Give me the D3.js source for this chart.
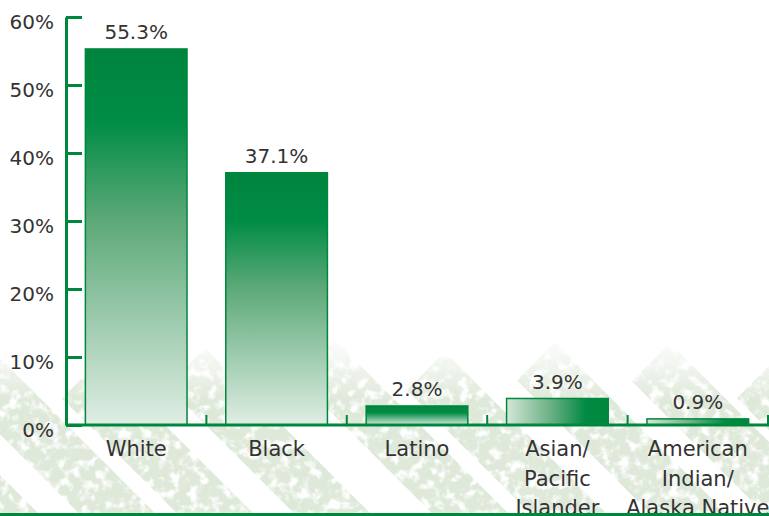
<!DOCTYPE html>
<html>
<head>
<meta charset="utf-8">
<script src="https://cdn.jsdelivr.net/npm/d3@7"></script>
<style>
  html, body { margin: 0; padding: 0; background: #ffffff; }
  svg { display: block; }
  text { font-family: "DejaVu Sans", "Liberation Sans", sans-serif; fill: #333333; }
</style>
</head>
<body>
<svg id="chart" width="769" height="516"></svg>
<script>
// ---- data ----
const categories = ["White", "Black", "Latino", "Asian/\nPacific\nIslander", "American\nIndian/\nAlaska Native"];
const values = [55.3, 37.1, 2.8, 3.9, 0.9];
const valueLabels = ["55.3%", "37.1%", "2.8%", "3.9%", "0.9%"];
const yTicks = [0, 10, 20, 30, 40, 50, 60];
const yTickLabels = ["0%", "10%", "20%", "30%", "40%", "50%", "60%"];
const gradientDirection = ["v", "v", "v", "h", "h"];

// ---- setup ----
const W = 769, H = 516;
const svg = d3.select("#chart");
const green = "#00873e";
const defs = svg.append("defs");

// vertical gradient: dark top -> light bottom
const gv = defs.append("linearGradient").attr("id", "gv")
  .attr("x1", 0).attr("y1", 0).attr("x2", 0).attr("y2", 1);
gv.append("stop").attr("offset", "0%").attr("stop-color", "#00843d");
gv.append("stop").attr("offset", "19%").attr("stop-color", "#008c45");
gv.append("stop").attr("offset", "45%").attr("stop-color", "#5ba877");
gv.append("stop").attr("offset", "100%").attr("stop-color", "#e0eee4");

// short vertical gradient for small bar
const gvs = defs.append("linearGradient").attr("id", "gvs")
  .attr("x1", 0).attr("y1", 0).attr("x2", 0).attr("y2", 1);
gvs.append("stop").attr("offset", "0%").attr("stop-color", "#00873e");
gvs.append("stop").attr("offset", "35%").attr("stop-color", "#008a43");
gvs.append("stop").attr("offset", "100%").attr("stop-color", "#d8eadd");

// horizontal gradient: light left -> dark right
const gh = defs.append("linearGradient").attr("id", "gh")
  .attr("x1", 0).attr("y1", 0).attr("x2", 1).attr("y2", 0);
gh.append("stop").attr("offset", "0%").attr("stop-color", "#d3e7d8");
gh.append("stop").attr("offset", "45%").attr("stop-color", "#67ae81");
gh.append("stop").attr("offset", "78%").attr("stop-color", "#008a43");
gh.append("stop").attr("offset", "100%").attr("stop-color", "#00873e");

// grain filter for background stripes
const f = defs.append("filter").attr("id", "grain")
  .attr("filterUnits", "userSpaceOnUse")
  .attr("x", 0).attr("y", 0).attr("width", W).attr("height", H);
f.append("feTurbulence").attr("type", "fractalNoise").attr("baseFrequency", 0.1)
  .attr("numOctaves", 3).attr("seed", 11).attr("result", "noise");
f.append("feColorMatrix").attr("in", "noise").attr("type", "matrix")
  .attr("values", "0 0 0 0 0  0 0 0 0 0  0 0 0 0 0  0 0 0 -4 2.9").attr("result", "mask");
f.append("feComposite").attr("in", "SourceGraphic").attr("in2", "mask").attr("operator", "in");

// vertical fade for stripe tops
const fade = defs.append("linearGradient").attr("id", "fade")
  .attr("gradientUnits", "userSpaceOnUse")
  .attr("x1", 0).attr("y1", 335).attr("x2", 0).attr("y2", 400);
fade.append("stop").attr("offset", "0%").attr("stop-color", "#fff").attr("stop-opacity", 0);
fade.append("stop").attr("offset", "100%").attr("stop-color", "#fff").attr("stop-opacity", 1);
defs.append("mask").attr("id", "fadeMask")
  .attr("maskUnits", "userSpaceOnUse").attr("x", 0).attr("y", 0).attr("width", W).attr("height", H)
  .append("rect").attr("x", 0).attr("y", 0).attr("width", W).attr("height", H).attr("fill", "url(#fade)");

// ---- background diagonal stripes (decoration) ----
const peaks = [
  [-340, 352], [-230, 350], [-120, 355], [-10, 348], [100, 360], [205, 348],
  [335, 340], [445, 352], [555, 342], [670, 343], [775, 360]
];
const stripeW = 54, stripeL = 700, r2 = Math.SQRT2;
const bg = svg.append("g").attr("mask", "url(#fadeMask)").append("g").attr("filter", "url(#grain)");
bg.append("g").attr("transform", "rotate(45)")
  .selectAll("rect").data(peaks).join("rect")
  .attr("x", d => (d[0] + d[1]) / r2)
  .attr("y", d => (d[1] - d[0]) / r2)
  .attr("width", stripeL)
  .attr("height", stripeW)
  .attr("fill", "#dfe9da");

// ---- scales ----
const pad = 0.276;
const x = d3.scaleBand().domain(categories).range([66, 768])
  .paddingInner(pad).paddingOuter(pad / 2);
const y = d3.scaleLinear().domain([0, 60]).range([425, 17]);

// ---- y axis ----
const yAxis = d3.axisLeft(y).tickValues(yTicks)
  .tickFormat((d, i) => yTickLabels[i])
  .tickSizeInner(-16).tickSizeOuter(0).tickPadding(12);
const gy = svg.append("g").attr("transform", "translate(66,0)").call(yAxis);
gy.select(".domain").attr("stroke", green).attr("stroke-width", 3);
gy.selectAll(".tick line").attr("stroke", green).attr("stroke-width", 3);
gy.selectAll(".tick text").attr("font-size", 20).attr("fill", "#333")
  .attr("font-family", "DejaVu Sans").attr("dy", "0.62em").attr("y", -1);

// ---- bars ----
const fillFor = (i) => gradientDirection[i] === "h" ? "url(#gh)" : (values[i] < 10 ? "url(#gvs)" : "url(#gv)");
svg.append("g").selectAll("rect").data(categories).join("rect")
  .attr("x", d => x(d))
  .attr("y", (d, i) => y(values[i]))
  .attr("width", x.bandwidth())
  .attr("height", (d, i) => y(0) - y(values[i]))
  .attr("fill", (d, i) => fillFor(i))
  .attr("stroke", green).attr("stroke-width", 1.5);

// ---- x axis ----
const gx = svg.append("g");
gx.append("line").attr("x1", 66).attr("x2", W).attr("y1", y(0)).attr("y2", y(0))
  .attr("stroke", green).attr("stroke-width", 3);
const boundaries = categories.map(c => x(c) + x.bandwidth() + x.step() * pad / 2);
gx.selectAll("line.tk").data(boundaries).join("line").attr("class", "tk")
  .attr("x1", d => d).attr("x2", d => d)
  .attr("y1", y(0) - 10).attr("y2", y(0))
  .attr("stroke", green).attr("stroke-width", 2);

// ---- value labels ----
svg.append("g").selectAll("text").data(categories).join("text")
  .attr("x", d => x(d) + x.bandwidth() / 2)
  .attr("y", (d, i) => y(values[i]) - 9.5)
  .attr("text-anchor", "middle")
  .attr("font-size", 20)
  .text((d, i) => valueLabels[i]);

// ---- category labels ----
const cl = svg.append("g").selectAll("text").data(categories).join("text")
  .attr("x", d => x(d) + x.bandwidth() / 2)
  .attr("y", 456)
  .attr("text-anchor", "middle")
  .attr("font-size", 21);
cl.each(function (d) {
  const t = d3.select(this);
  d.split("\n").forEach((line, j) => {
    t.append("tspan").attr("x", x(d) + x.bandwidth() / 2).attr("dy", j === 0 ? 0 : 29.5).text(line);
  });
});

// ---- bottom rule ----
svg.append("rect").attr("x", 0).attr("y", 513).attr("width", W).attr("height", 3).attr("fill", green);
</script>
</body>
</html>
